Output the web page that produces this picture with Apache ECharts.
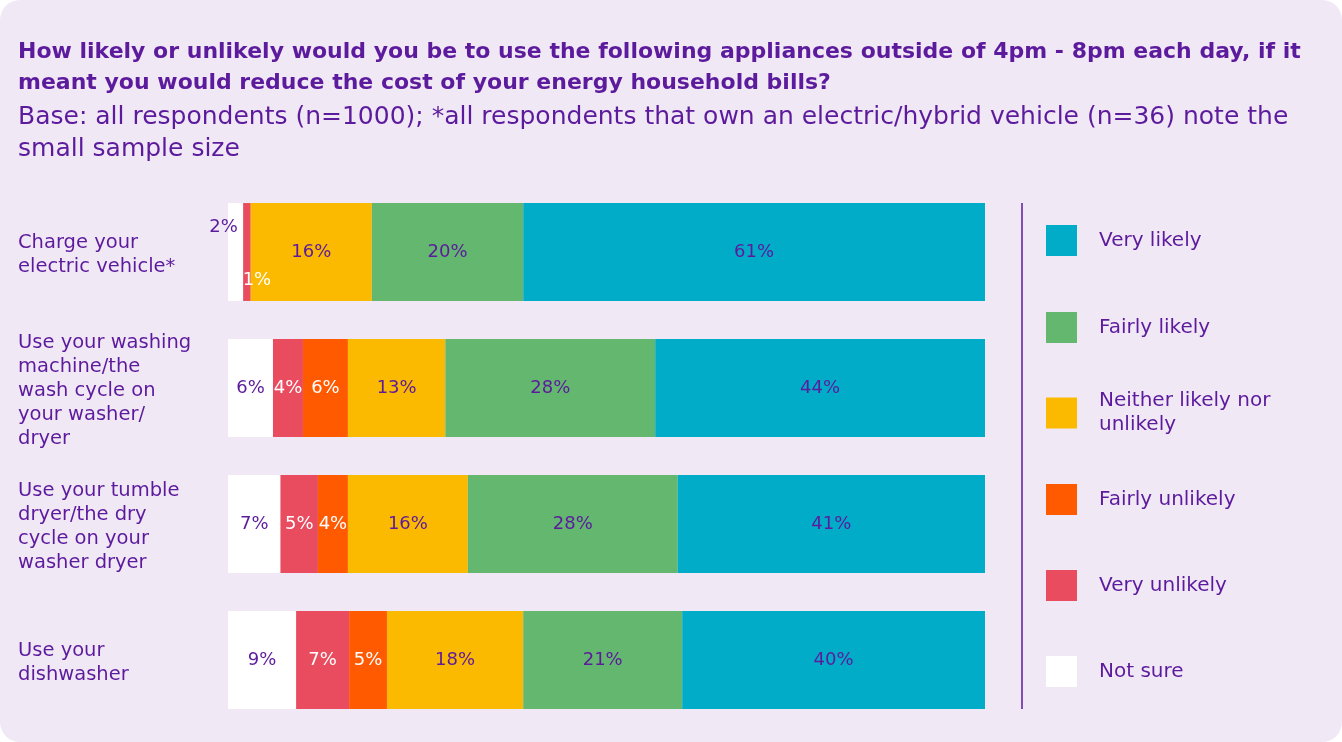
<!DOCTYPE html>
<html>
<head>
<meta charset="utf-8">
<script src="https://cdn.jsdelivr.net/npm/echarts@6/dist/echarts.min.js"></script>
<style>
  html, body { margin: 0; padding: 0; background: #ffffff; }
  #wrap { position: absolute; left: 0; top: 0; width: 1342px; height: 742px; background: #f1e8f5; border-radius: 20px; overflow: hidden; }
  #chart { width: 1342px; height: 742px; }
</style>
</head>
<body>
<div id="wrap"><div id="chart"></div></div>
<script>
const categories = [
  'Charge your\nelectric vehicle*',
  'Use your washing\nmachine/the\nwash cycle on\nyour washer/\ndryer',
  'Use your tumble\ndryer/the dry\ncycle on your\nwasher dryer',
  'Use your\ndishwasher'
];
const seriesNames = ['Not sure', 'Very unlikely', 'Fairly unlikely', 'Neither likely nor unlikely', 'Fairly likely', 'Very likely'];
const notSure        = [2, 6, 7, 9];
const veryUnlikely   = [1, 4, 5, 7];
const fairlyUnlikely = [0, 6, 4, 5];
const neither        = [16, 13, 16, 18];
const fairlyLikely   = [20, 28, 28, 21];
const veryLikely     = [61, 44, 41, 40];
const colors = ['#ffffff', '#e94b5f', '#ff5a00', '#fbb900', '#63b76e', '#00acc8'];
const labelColors = ['#5c1b9d', '#ffffff', '#ffffff', '#5c1b9d', '#5c1b9d', '#5c1b9d'];

const values = [notSure, veryUnlikely, fairlyUnlikely, neither, fairlyLikely, veryLikely];
const rowTotals = categories.map((c, i) => values.reduce((s, arr) => s + arr[i], 0));
const PURPLE = '#5c1b9d';
const FONT = '"DejaVu Sans"';

// special label placement for the thin segments in the first row
const specialLabels = {
  '0-0': { offset: [-12, -25], color: PURPLE },
  '1-0': { offset: [10, 28], color: '#ffffff' }
};

const series = values.map((arr, si) => ({
  name: seriesNames[si],
  type: 'bar',
  stack: 'total',
  barWidth: '72%',
  itemStyle: { color: colors[si] },
  label: {
    show: true,
    position: 'inside',
    color: labelColors[si],
    fontFamily: FONT,
    fontSize: 18,
    fontWeight: 'normal',
    formatter: p => (p.data.raw > 0 ? p.data.raw + '%' : '')
  },
  data: arr.map((v, ci) => {
    const d = { value: v / rowTotals[ci] * 100, raw: v };
    const sp = specialLabels[si + '-' + ci];
    if (sp) d.label = sp;
    return d;
  })
}));

// legend: one block per item, top to bottom Very likely -> Not sure
const legendOrder = ['Very likely', 'Fairly likely', 'Neither likely nor unlikely', 'Fairly unlikely', 'Very unlikely', 'Not sure'];
const legendDisplay = { 'Neither likely nor unlikely': 'Neither likely nor\nunlikely' };
const legendTops = [225, 312, 389, 484, 570, 656];
const legends = legendOrder.map((name, i) => ({
  data: [name],
  left: 1046,
  top: legendTops[i],
  padding: 0,
  orient: 'vertical',
  icon: 'rect',
  itemWidth: 31,
  itemHeight: 31,
  selectedMode: false,
  formatter: n => legendDisplay[n] || n,
  textStyle: { color: PURPLE, fontFamily: FONT, fontSize: 20, fontWeight: 'normal', lineHeight: 24, padding: [0, 0, 0, 17] }
}));

const chart = echarts.init(document.getElementById('chart'), null, { renderer: 'canvas' });
chart.setOption({
  backgroundColor: 'transparent',
  animation: false,
  title: {
    text: 'How likely or unlikely would you be to use the following appliances outside of 4pm - 8pm each day, if it\nmeant you would reduce the cost of your energy household bills?',
    subtext: 'Base: all respondents (n=1000); *all respondents that own an electric/hybrid vehicle (n=36) note the\nsmall sample size',
    left: 18,
    top: 37,
    itemGap: 2,
    padding: 0,
    textStyle: { color: PURPLE, fontFamily: FONT, fontSize: 22, fontWeight: 'bold', lineHeight: 31 },
    subtextStyle: { color: PURPLE, fontFamily: FONT, fontSize: 25, fontWeight: 'normal', lineHeight: 32 }
  },
  legend: legends,
  grid: { left: 228, right: 357, top: 184, height: 544, containLabel: false },
  xAxis: { type: 'value', min: 0, max: 100, show: false },
  yAxis: {
    type: 'category',
    data: categories,
    inverse: true,
    axisLine: { show: false },
    axisTick: { show: false },
    axisLabel: {
      align: 'left',
      margin: 210,
      color: PURPLE,
      fontFamily: FONT,
      fontSize: 19.5,
      fontWeight: 'normal',
      lineHeight: 24,
      formatter: v => '{c|' + v.split('\n').join('}\n{c|') + '}',
      rich: { c: { color: PURPLE, fontFamily: FONT, fontSize: 19.5, lineHeight: 24, padding: [6, 0, 0, 0] } }
    }
  },
  graphic: [{
    type: 'line',
    shape: { x1: 1022, y1: 203, x2: 1022, y2: 709 },
    style: { stroke: PURPLE, lineWidth: 1.5 }
  }],
  series: series
});
</script>
</body>
</html>
